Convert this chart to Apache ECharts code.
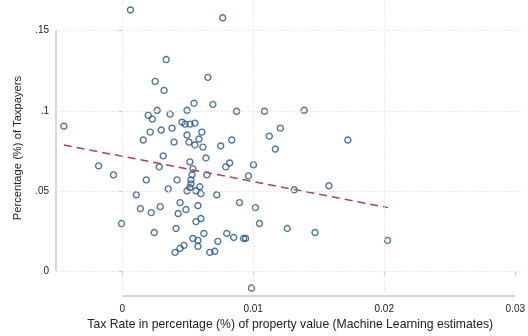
<!DOCTYPE html>
<html><head><meta charset="utf-8">
<script src="https://cdn.jsdelivr.net/npm/echarts@6/dist/echarts.min.js"></script>
<style>html,body{margin:0;padding:0;background:#fff}#c{width:528px;height:336px}</style>
</head><body><div id="c"></div>
<script>
// Tax rate (x) and share of taxpayers (y)
const taxRate = [
 0.00063,0.00767,0.00336,0.00252,0.00654,0.00320,0.00548,0.00692,0.00267,0.00495,
 0.00873,0.01086,0.01389,0.00199,0.00366,0.00230,0.00457,0.00480,0.00517,0.00555,
 -0.00445,0.00298,0.00381,0.00214,0.00608,0.00495,0.01207,0.01123,0.00161,0.00396,
 0.00510,0.00586,0.00555,0.00616,0.00752,0.00836,0.01169,0.01722,0.00313,0.00639,
 0.00517,0.00820,0.01002,0.00790,0.00540,-0.00180,0.00283,-0.00066,0.00184,0.00419,
 0.00533,0.00646,0.00525,0.00964,0.00525,0.00593,0.00517,0.00351,0.00495,0.00563,
 0.00601,0.00722,0.01313,0.01578,0.00108,0.00290,0.00139,0.00222,0.00442,0.00487,
 0.00578,0.00427,0.00896,0.01017,0.00563,0.00601,0.01048,-0.00005,0.00245,0.00411,
 0.00623,0.00798,0.00851,0.00927,0.00942,0.01260,0.01472,0.00540,0.00578,0.00730,
 0.00578,0.00472,0.00442,0.00404,0.00669,0.00707,0.00987,0.02025
];
const taxpayersPct = [
 0.1629,0.1580,0.1320,0.1184,0.1209,0.1128,0.1048,0.1041,0.1004,0.1004,
 0.0998,0.0998,0.1004,0.0973,0.0980,0.0949,0.0930,0.0918,0.0918,0.0924,
 0.0905,0.0881,0.0893,0.0868,0.0868,0.0850,0.0893,0.0843,0.0819,0.0806,
 0.0806,0.0825,0.0788,0.0775,0.0782,0.0819,0.0763,0.0819,0.0720,0.0707,
 0.0683,0.0676,0.0664,0.0652,0.0639,0.0658,0.0652,0.0602,0.0571,0.0571,
 0.0602,0.0602,0.0571,0.0596,0.0546,0.0528,0.0522,0.0515,0.0503,0.0503,
 0.0485,0.0478,0.0509,0.0534,0.0478,0.0404,0.0392,0.0367,0.0429,0.0386,
 0.0410,0.0361,0.0429,0.0398,0.0311,0.0330,0.0299,0.0299,0.0243,0.0268,
 0.0237,0.0237,0.0212,0.0206,0.0206,0.0268,0.0243,0.0206,0.0194,0.0188,
 0.0157,0.0163,0.0144,0.0119,0.0119,0.0126,-0.0103,0.0194
];
// fitted line end points
const fitX = [-0.00445, 0.0203];
const fitY = [0.0788, 0.0398];
// axes
const xTicks = [0, 0.01, 0.02, 0.03];
const xTickLabels = ['0', '0.01', '0.02', '0.03'];
const xGrid = [0, 0.01, 0.02];
const yTicks = [0, 0.05, 0.1, 0.15];
const yTickLabels = ['0', '.05', '.1', '.15'];
const xTitle = 'Tax Rate in percentage (%) of property value (Machine Learning estimates)';
const yTitle = 'Percentage (%) of Taxpayers';

const XMIN = -0.00505, XMAX = 0.0307, YMIN = -0.0153, YMAX = 0.1691;
const FONT = '"Liberation Sans", Arial, Helvetica, sans-serif';
const AXIS_COLOR = '#c9c9c9';
const GRID_COLOR = '#e2e2e2';
const TEXT_COLOR = '#222';

const chart = echarts.init(document.getElementById('c'), null, {renderer: 'canvas'});
const lbl = (ticks, labels) => v => {
  const i = ticks.findIndex(t => Math.abs(t - v) < 1e-9);
  return i >= 0 ? labels[i] : '';
};
chart.setOption({
  animation: false,
  backgroundColor: '#fff',
  grid: {left: 56, right: 0, top: 0, bottom: 38, containLabel: false},
  xAxis: {
    type: 'value', min: XMIN, max: XMAX,
    axisLine: {show: false},
    splitLine: {show: false},
    axisTick: {show: true, customValues: xTicks, length: 4, lineStyle: {color: AXIS_COLOR, width: 1.2}},
    axisLabel: {show: true, customValues: xTicks, margin: 8, fontSize: 10, color: TEXT_COLOR, fontFamily: FONT,
      formatter: lbl(xTicks, xTickLabels)},
    name: xTitle, nameLocation: 'middle', nameGap: 22,
    nameTextStyle: {fontSize: 12.2, color: TEXT_COLOR, fontFamily: FONT}
  },
  yAxis: {
    type: 'value', min: YMIN, max: YMAX,
    axisLine: {show: false},
    splitLine: {show: false},
    axisTick: {show: true, customValues: yTicks, length: 4, lineStyle: {color: AXIS_COLOR, width: 1.2}},
    axisLabel: {show: true, customValues: yTicks, margin: 7, fontSize: 10, color: TEXT_COLOR, fontFamily: FONT,
      formatter: lbl(yTicks, yTickLabels)},
    name: yTitle, nameLocation: 'middle', nameGap: 33, nameRotate: 90,
    nameTextStyle: {fontSize: 11.2, color: TEXT_COLOR, fontFamily: FONT}
  },
  series: [
    {
      type: 'line', silent: true, symbol: 'none', clip: false,
      data: [],
      markLine: {
        silent: true, symbol: ['none', 'none'], label: {show: false},
        lineStyle: {type: [1.5, 2], color: GRID_COLOR, width: 1},
        data: xGrid.map(v => ({xAxis: v})).concat(yTicks.map(v => ({yAxis: v})))
      }
    },
    {
      type: 'line', silent: true, symbol: 'none', clip: false,
      lineStyle: {color: AXIS_COLOR, width: 1.5},
      data: [[XMIN, yTicks[0]], [XMIN, yTicks[yTicks.length - 1]]]
    },
    {
      type: 'line', silent: true, symbol: 'none', clip: false,
      lineStyle: {color: AXIS_COLOR, width: 1.5},
      data: [[xTicks[0], YMIN], [xTicks[xTicks.length - 1], YMIN]]
    },
    {
      type: 'scatter', silent: true,
      symbol: 'circle', symbolSize: 6,
      itemStyle: {color: 'rgba(0,0,0,0)', borderColor: '#24527f', borderWidth: 1.4},
      data: taxRate.map((x, i) => [x, taxpayersPct[i]])
    },
    {
      type: 'line', silent: true, symbol: 'none',
      lineStyle: {color: '#a8474d', width: 1.5, type: [8, 5]},
      data: fitX.map((x, i) => [x, fitY[i]])
    }
  ]
});
</script>
</body></html>
